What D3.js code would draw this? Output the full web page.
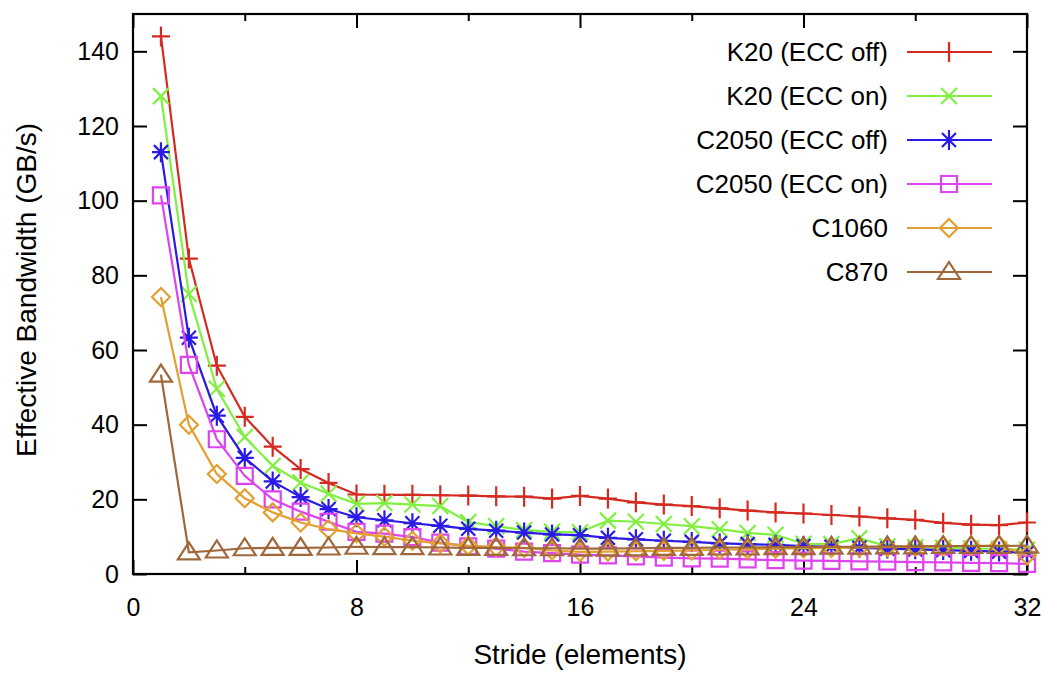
<!DOCTYPE html>
<html><head><meta charset="utf-8">
<script src="https://cdn.jsdelivr.net/npm/d3@7"></script>
<style>
html,body{margin:0;padding:0;background:#fff;}
svg text{font-family:"Liberation Sans",Arial,Helvetica,sans-serif;fill:#000;}
</style></head>
<body><svg id="chart" width="1046" height="673"></svg>
<script>
const strides = d3.range(1, 33);
const seriesNames = ["K20 (ECC off)", "K20 (ECC on)", "C2050 (ECC off)", "C2050 (ECC on)", "C1060", "C870"];
const k20Off = [144, 84.5, 55.8, 42.1, 34.1, 28.1, 24.4, 21.3, 21.2, 21.2, 21.1, 21.0, 20.8, 20.7, 20.2, 20.9, 20.2, 19.2, 18.6, 18.2, 17.6, 17.0, 16.5, 16.2, 15.8, 15.4, 14.9, 14.5, 13.7, 13.2, 13.1, 13.8];
const k20On = [128, 75, 49.6, 36.7, 29, 24.5, 21.5, 18.8, 19, 18.6, 18.2, 13.9, 12.8, 11.8, 11.3, 11.2, 14.3, 14.0, 13.4, 12.8, 12.0, 11.0, 10.5, 8.1, 8.0, 9.6, 7.4, 7.2, 7.0, 6.9, 6.7, 6.5];
const c2050Off = [113, 63.3, 42.4, 31.1, 24.8, 20.6, 17.4, 15.2, 14.4, 13.6, 12.9, 12.1, 11.6, 11.1, 10.6, 10.4, 9.7, 9.3, 8.9, 8.6, 8.2, 8.0, 7.8, 7.5, 7.3, 7.0, 6.8, 6.6, 6.4, 6.2, 6.0, 5.7];
const c2050On = [101.4, 56, 36.1, 26.3, 20, 16.7, 14, 11.3, 10.8, 9.9, 8.4, 7.4, 6.8, 6.0, 5.6, 5.2, 5.0, 4.7, 4.4, 4.2, 4.1, 3.9, 3.7, 3.6, 3.5, 3.4, 3.3, 3.2, 3.1, 3.0, 2.9, 2.7];
const c1060 = [74.2, 40, 26.8, 20.3, 16.5, 13.8, 12, 10.9, 10, 8.9, 8.2, 7.6, 7.2, 7.0, 6.3, 5.9, 6.0, 6.1, 6.2, 6.3, 6.5, 6.6, 6.8, 6.9, 7.0, 7.1, 7.2, 7.3, 7.4, 7.5, 7.7, 5.0];
const c870 = [53.4, 5.8, 6.3, 6.9, 7.0, 7.0, 7.1, 7.3, 7.2, 7.2, 7.1, 7.0, 7.0, 6.9, 6.9, 6.8, 6.8, 6.9, 7.0, 7.0, 7.1, 7.1, 7.2, 7.2, 7.3, 7.3, 7.4, 7.4, 7.5, 7.5, 7.5, 7.6];
const xTickValues = [0, 8, 16, 24, 32];
const xMinorTicks = [4, 12, 20, 28];
const yTickValues = [0, 20, 40, 60, 80, 100, 120, 140];

const allValues = [k20Off, k20On, c2050Off, c2050On, c1060, c870];
const colors = ["#d42a20", "#80f040", "#2a1ae6", "#dd44ee", "#e3a030", "#a0683a"];
const markers = ["plus", "cross", "star", "square", "diamond", "triangle"];

const svg = d3.select("#chart");
const L = 133, R = 1027, T = 14, B = 574;
const x = d3.scaleLinear().domain([0, 32]).range([L, R]);
const y = d3.scaleLinear().domain([0, 150]).range([B, T]);

const axes = svg.append("g");
axes.append("g").attr("transform", `translate(0,${B})`)
  .call(d3.axisBottom(x).tickValues(xTickValues).tickSize(-14).tickPadding(24).tickFormat(d3.format("d")))
  .call(g => g.select(".domain").remove());
axes.append("g").attr("transform", `translate(0,${B})`)
  .call(d3.axisBottom(x).tickValues(xMinorTicks).tickSize(-7).tickFormat(""))
  .call(g => g.select(".domain").remove());
axes.append("g").attr("transform", `translate(0,${T})`)
  .call(d3.axisTop(x).tickValues(xTickValues).tickSize(-14).tickFormat(""))
  .call(g => g.select(".domain").remove());
axes.append("g").attr("transform", `translate(0,${T})`)
  .call(d3.axisTop(x).tickValues(xMinorTicks).tickSize(-7).tickFormat(""))
  .call(g => g.select(".domain").remove());
axes.append("g").attr("transform", `translate(${L},0)`)
  .call(d3.axisLeft(y).tickValues(yTickValues).tickSize(-14).tickPadding(14))
  .call(g => g.select(".domain").remove());
axes.append("g").attr("transform", `translate(${R},0)`)
  .call(d3.axisRight(y).tickValues(yTickValues).tickSize(-14).tickFormat(""))
  .call(g => g.select(".domain").remove());
axes.selectAll(".tick line").attr("stroke", "#000").attr("stroke-width", 2);
axes.selectAll(".tick text").attr("font-size", 25).attr("fill", "#000");

svg.append("rect").attr("x", L).attr("y", T).attr("width", R - L).attr("height", B - T)
  .attr("fill", "none").attr("stroke", "#000").attr("stroke-width", 2.2);

svg.append("text").attr("x", 580).attr("y", 664).attr("text-anchor", "middle")
  .attr("font-size", 28).text("Stride (elements)");
svg.append("text").attr("transform", "translate(36,290) rotate(-90)").attr("text-anchor", "middle")
  .attr("font-size", 28).text("Effective Bandwidth (GB/s)");

function markerPath(type) {
  switch (type) {
    case "plus": return "M-9,0H9M0,-10V10";
    case "cross": return "M-8,-8L8,8M-8,8L8,-8";
    case "star": return "M-9,0H9M0,-10V10M-7,-7L7,7M-7,7L7,-7";
    case "square": return "M-8,-8H8V8H-8Z";
    case "diamond": return "M0,-9L9,0L0,9L-9,0Z";
    case "triangle": return "M0,-10L11,7H-11Z";
  }
}

const line = d3.line().x((d, i) => x(strides[i])).y(d => y(d));
const plot = svg.append("g");
allValues.forEach((vals, si) => {
  const g = plot.append("g");
  g.append("path").datum(vals).attr("d", line).attr("fill", "none")
    .attr("stroke", colors[si]).attr("stroke-width", 2.2);
  g.selectAll("path.m").data(vals).join("path").attr("class", "m")
    .attr("transform", (d, i) => `translate(${x(strides[i])},${y(d)})`)
    .attr("d", markerPath(markers[si])).attr("fill", "none")
    .attr("stroke", colors[si]).attr("stroke-width", 2.2);
});

const leg = svg.append("g");
seriesNames.forEach((name, si) => {
  const ly = 52 + si * 44;
  leg.append("text").attr("x", 888).attr("y", ly + 9).attr("text-anchor", "end")
    .attr("font-size", 26).text(name);
  leg.append("line").attr("x1", 907).attr("x2", 992).attr("y1", ly).attr("y2", ly)
    .attr("stroke", colors[si]).attr("stroke-width", 2.2);
  leg.append("path").attr("transform", `translate(949,${ly})`).attr("d", markerPath(markers[si]))
    .attr("fill", "none").attr("stroke", colors[si]).attr("stroke-width", 2.2);
});
</script></body></html>
